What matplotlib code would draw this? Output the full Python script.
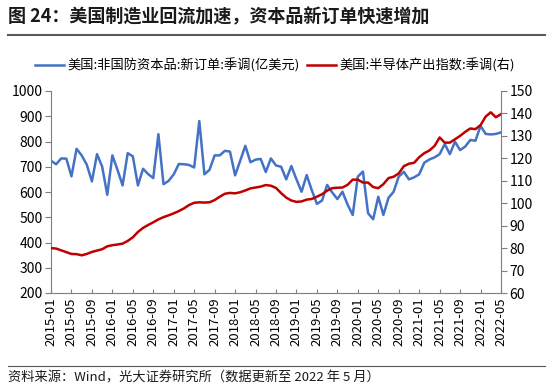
import pandas as pd
import matplotlib.pyplot as plt
from matplotlib.lines import Line2D

plt.rcParams['font.family'] = ['Noto Sans CJK SC', 'DejaVu Sans']

# monthly, 2015-01 .. 2022-05
months = pd.date_range("2015-01-01", "2022-05-01", freq="MS").strftime("%Y-%m").tolist()

# 美国:非国防资本品:新订单:季调(亿美元)
orders = [
    724, 710, 733, 732, 662, 771, 745, 708, 642, 750,
    701, 589, 745, 688, 626, 754, 741, 626, 692, 671,
    655, 829, 631, 644, 670, 711, 710, 707, 697, 881,
    670, 688, 745, 745, 763, 760, 666, 724, 783, 718,
    728, 731, 679, 733, 705, 700, 650, 703, 650, 601,
    667, 607, 553, 566, 628, 598, 572, 601, 550, 509,
    661, 681, 516, 492, 581, 509, 577, 601, 661, 680,
    650, 658, 670, 716, 729, 737, 750, 790, 750, 799,
    766, 780, 806, 803, 862, 830, 828, 830, 836,
]

# 美国:半导体产出指数:季调(右)
semis = [
    80.0, 79.8, 79.0, 78.2, 77.4, 77.3, 76.8, 77.4, 78.3, 78.9,
    79.5, 80.8, 81.3, 81.6, 82.0, 83.2, 84.8, 87.2, 89.0, 90.3,
    91.5, 92.8, 93.8, 94.6, 95.5, 96.5, 97.7, 99.2, 100.2, 100.4,
    100.3, 100.4, 101.4, 102.9, 104.2, 104.6, 104.4, 104.9, 105.7, 106.6,
    107.0, 107.4, 108.1, 107.8, 106.8, 104.5, 102.5, 101.2, 100.6, 100.8,
    101.6, 101.9, 102.9, 104.0, 105.6, 106.7, 106.9, 107.0, 108.2, 110.5,
    110.5, 109.2, 109.2, 107.2, 106.7, 108.5, 111.2, 111.8, 113.3, 116.5,
    117.6, 118.0, 120.5, 122.3, 123.5, 125.5, 129.3, 127.0, 127.0, 128.5,
    130.0, 131.8, 133.3, 133.0, 134.8, 138.6, 140.5, 138.3, 139.7,
]

BLUE = "#4472C4"
RED = "#C00000"
GREY = "#7f7f7f"

W, H = 550, 392
fig = plt.figure(figsize=(W / 100, H / 100), dpi=100)

# title + rules
fig.text(8 / W, 1 - 17 / H, "图 24：美国制造业回流加速，资本品新订单快速增加",
         fontsize=13, fontweight="bold", ha="left", va="center", color="#1a1a1a")
fig.add_artist(Line2D([8 / W, 545 / W], [1 - 35 / H, 1 - 35 / H], color="#595959", lw=1.5))
fig.add_artist(Line2D([8 / W, 545 / W], [1 - 366 / H, 1 - 366 / H], color="#595959", lw=0.8))
fig.text(8 / W, 1 - 378 / H, "资料来源：Wind，光大证券研究所（数据更新至 2022 年 5 月）",
         fontsize=9.5, ha="left", va="center", color="#1a1a1a")

ax = fig.add_axes([51 / W, 1 - 293 / H, 450 / W, 202 / H])
ax2 = ax.twinx()

x = list(range(len(months)))
l1, = ax.plot(x, orders, color=BLUE, lw=1.8, label="美国:非国防资本品:新订单:季调(亿美元)")
l2, = ax2.plot(x, semis, color=RED, lw=1.8, label="美国:半导体产出指数:季调(右)")

ax.set_xlim(0, len(months) - 1)
ax.set_ylim(200, 1000)
ax.set_yticks(range(200, 1001, 100))
ax2.set_ylim(60, 150)
ax2.set_yticks(range(60, 151, 10))

ax.set_xticks(x[::4])
ax.set_xticklabels(months[::4], rotation=90, fontsize=9.5)

for a in (ax, ax2):
    a.spines["top"].set_visible(False)
    for s in ("left", "right", "bottom"):
        a.spines[s].set_color(GREY)
    a.tick_params(axis="y", direction="out", length=4, color=GREY, labelsize=10, pad=2)
ax.spines["right"].set_visible(False)
ax2.spines["left"].set_visible(False)
ax2.spines["bottom"].set_visible(False)
ax.tick_params(axis="x", direction="in", length=3, color=GREY, pad=3)

fig.legend(handles=[l1, l2], loc="center", bbox_to_anchor=(0.5, 1 - 65 / H), ncol=2,
           frameon=False, fontsize=9.5, handlelength=2.2, columnspacing=0.5, handletextpad=0.3)

fig.savefig("out.png", dpi=100)
